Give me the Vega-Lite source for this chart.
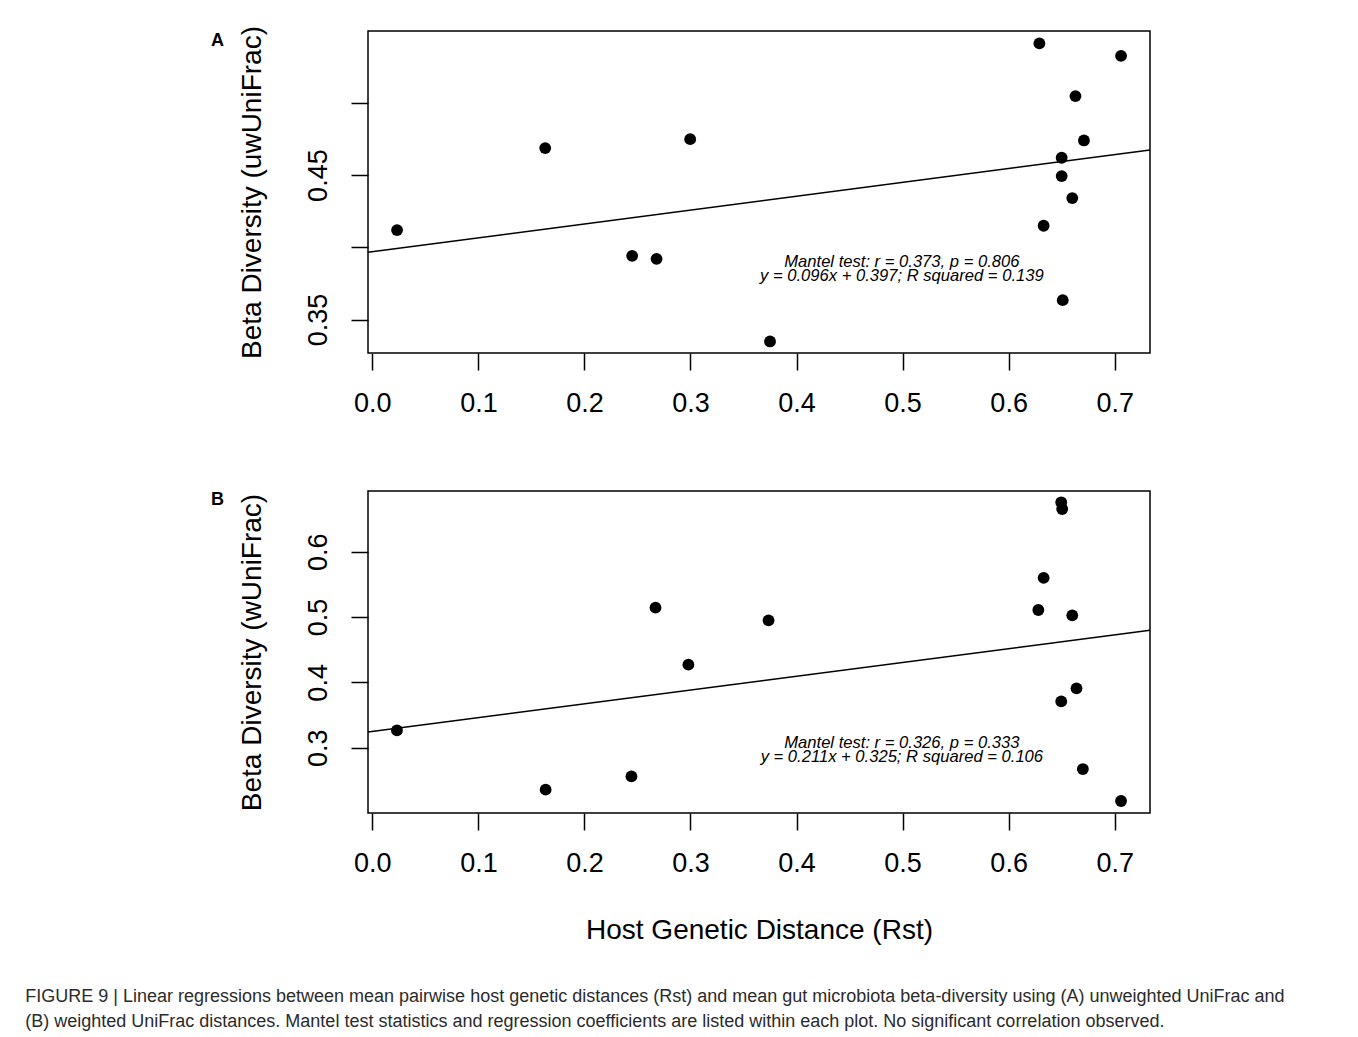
{
  "$schema": "https://vega.github.io/schema/vega-lite/v6.json",
  "background": "white",
  "padding": {"left": 25, "top": 24, "right": 0, "bottom": 0},
  "config": {
    "font": "Liberation Sans",
    "view": {"stroke": "black", "strokeWidth": 1.5},
    "axis": {
      "domain": false, "grid": false, "ticks": true, "tickSize": 17, "tickColor": "black", "tickWidth": 1.5,
      "labelFont": "Liberation Sans", "labelFontSize": 27, "labelColor": "black",
      "titleFont": "Liberation Sans", "titleFontSize": 28, "titleFontWeight": "normal", "titleColor": "black"
    },
    "axisX": {"labelPadding": 20.5, "titlePadding": 40},
    "axisY": {"labelAngle": -90, "labelAlign": "center", "labelBaseline": "alphabetic", "labelPadding": 24.5, "titlePadding": 38.5}
  },
  "datasets": {
    "a": [
      {"rst": 0.0233, "beta": 0.4119},
      {"rst": 0.163, "beta": 0.4687},
      {"rst": 0.245, "beta": 0.3941},
      {"rst": 0.268, "beta": 0.392},
      {"rst": 0.2997, "beta": 0.4749},
      {"rst": 0.375, "beta": 0.3348},
      {"rst": 0.629, "beta": 0.5412},
      {"rst": 0.633, "beta": 0.4149},
      {"rst": 0.65, "beta": 0.462},
      {"rst": 0.65, "beta": 0.4493},
      {"rst": 0.651, "beta": 0.3634},
      {"rst": 0.66, "beta": 0.4341},
      {"rst": 0.663, "beta": 0.5047},
      {"rst": 0.671, "beta": 0.474},
      {"rst": 0.706, "beta": 0.5326}
    ],
    "b": [
      {"rst": 0.0232, "beta": 0.3265},
      {"rst": 0.1634, "beta": 0.2357},
      {"rst": 0.2443, "beta": 0.256},
      {"rst": 0.267, "beta": 0.5144},
      {"rst": 0.298, "beta": 0.4271},
      {"rst": 0.3736, "beta": 0.495},
      {"rst": 0.628, "beta": 0.5108},
      {"rst": 0.633, "beta": 0.5599},
      {"rst": 0.6496, "beta": 0.6757},
      {"rst": 0.6505, "beta": 0.6655},
      {"rst": 0.6496, "beta": 0.3709},
      {"rst": 0.66, "beta": 0.5026},
      {"rst": 0.664, "beta": 0.3909},
      {"rst": 0.67, "beta": 0.2673},
      {"rst": 0.706, "beta": 0.2184}
    ],
    "lineA": [
      {"rst": -0.0041, "beta": 0.3966},
      {"rst": 0.7333, "beta": 0.4674}
    ],
    "lineB": [
      {"rst": -0.0041, "beta": 0.3241},
      {"rst": 0.7333, "beta": 0.4797}
    ]
  },
  "title": {
    "text": [
      "FIGURE 9 | Linear regressions between mean pairwise host genetic distances (Rst) and mean gut microbiota beta-diversity using (A) unweighted UniFrac and",
      "(B) weighted UniFrac distances. Mantel test statistics and regression coefficients are listed within each plot. No significant correlation observed."
    ],
    "orient": "bottom", "anchor": "start", "frame": "bounds",
    "fontSize": 18, "fontWeight": "normal", "color": "#2b2b2b", "lineHeight": 25,
    "dx": -185, "offset": 43, "font": "Liberation Sans"
  },
  "spacing": 72,
  "vconcat": [
    {
      "width": 782, "height": 322,
      "title": {"text": "A", "anchor": "start", "frame": "group", "dx": -157, "dy": 38, "offset": 0, "baseline": "alphabetic", "fontSize": 18, "fontWeight": "bold", "color": "black"},
      "layer": [
        {
          "data": {"name": "a"},
          "mark": {"type": "circle", "size": 140, "opacity": 1, "color": "black"},
          "encoding": {
            "x": {"field": "rst", "type": "quantitative", "scale": {"domain": [-0.0041, 0.7333], "nice": false, "zero": false},
                  "axis": {"title": null, "values": [0, 0.1, 0.2, 0.3, 0.4, 0.5, 0.6, 0.7], "format": ".1f"}},
            "y": {"field": "beta", "type": "quantitative", "scale": {"domain": [0.3268, 0.5498], "nice": false, "zero": false},
                  "axis": {"title": "Beta Diversity (uwUniFrac)", "values": [0.35, 0.4, 0.45, 0.5],
                           "labelExpr": "datum.value > 0.39 && datum.value < 0.41 || datum.value > 0.49 ? '' : format(datum.value, '.2f')"}}
          }
        },
        {
          "data": {"name": "lineA"},
          "mark": {"type": "line", "color": "black", "strokeWidth": 1.5},
          "encoding": {"x": {"field": "rst", "type": "quantitative"}, "y": {"field": "beta", "type": "quantitative"}}
        },
        {
          "data": {"values": [{}]},
          "mark": {"type": "text", "text": "Mantel test: r = 0.373, p = 0.806", "fontStyle": "italic", "fontSize": 16.6, "align": "center", "baseline": "alphabetic", "color": "black"},
          "encoding": {"x": {"datum": 0.4993}, "y": {"datum": 0.3866}}
        },
        {
          "data": {"values": [{}]},
          "mark": {"type": "text", "text": "y = 0.096x + 0.397; R squared = 0.139", "fontStyle": "italic", "fontSize": 16.6, "align": "center", "baseline": "alphabetic", "color": "black"},
          "encoding": {"x": {"datum": 0.4993}, "y": {"datum": 0.3769}}
        }
      ]
    },
    {
      "width": 782, "height": 322,
      "title": {"text": "B", "anchor": "start", "frame": "group", "dx": -157, "dy": 32, "offset": 0, "baseline": "alphabetic", "fontSize": 18, "fontWeight": "bold", "color": "black"},
      "layer": [
        {
          "data": {"name": "b"},
          "mark": {"type": "circle", "size": 140, "opacity": 1, "color": "black"},
          "encoding": {
            "x": {"field": "rst", "type": "quantitative", "scale": {"domain": [-0.0041, 0.7333], "nice": false, "zero": false},
                  "axis": {"title": "Host Genetic Distance (Rst)", "values": [0, 0.1, 0.2, 0.3, 0.4, 0.5, 0.6, 0.7], "format": ".1f"}},
            "y": {"field": "beta", "type": "quantitative", "scale": {"domain": [0.2, 0.693], "nice": false, "zero": false},
                  "axis": {"title": "Beta Diversity (wUniFrac)", "values": [0.3, 0.4, 0.5, 0.6], "format": ".1f"}}
          }
        },
        {
          "data": {"name": "lineB"},
          "mark": {"type": "line", "color": "black", "strokeWidth": 1.5},
          "encoding": {"x": {"field": "rst", "type": "quantitative"}, "y": {"field": "beta", "type": "quantitative"}}
        },
        {
          "data": {"values": [{}]},
          "mark": {"type": "text", "text": "Mantel test: r = 0.326, p = 0.333", "fontStyle": "italic", "fontSize": 16.6, "align": "center", "baseline": "alphabetic", "color": "black"},
          "encoding": {"x": {"datum": 0.4993}, "y": {"datum": 0.2992}}
        },
        {
          "data": {"values": [{}]},
          "mark": {"type": "text", "text": "y = 0.211x + 0.325; R squared = 0.106", "fontStyle": "italic", "fontSize": 16.6, "align": "center", "baseline": "alphabetic", "color": "black"},
          "encoding": {"x": {"datum": 0.4993}, "y": {"datum": 0.2778}}
        }
      ]
    }
  ]
}
